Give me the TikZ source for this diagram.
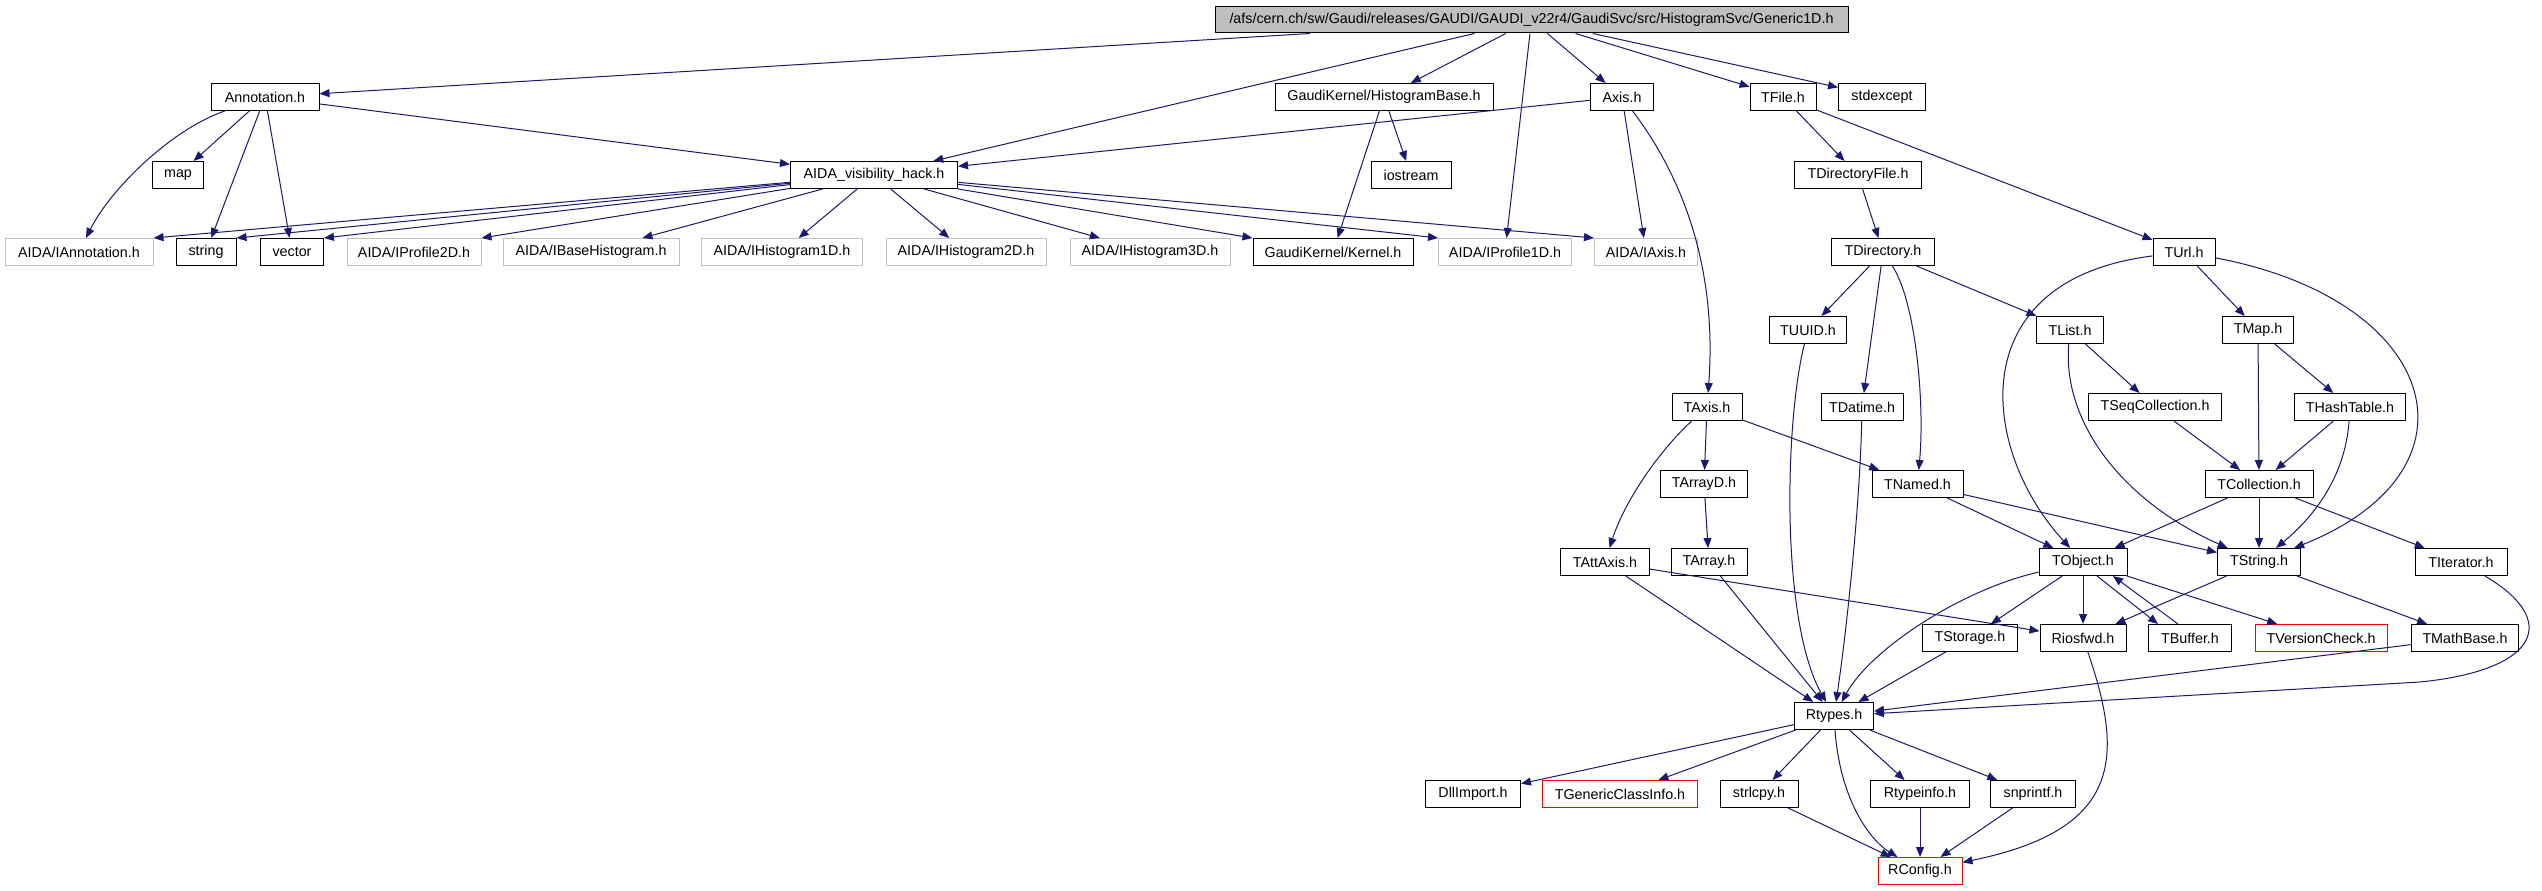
\documentclass[tikz,border=0pt]{standalone}
\usepackage{fontspec}
\setmainfont{Liberation Sans}
\usetikzlibrary{arrows.meta}
\definecolor{edgec}{HTML}{191970}
\definecolor{greyb}{HTML}{BFBFBF}
\tikzset{
 box/.style={draw=black, line width=1pt, minimum height=27pt, inner sep=0pt, font=\fontsize{14.3}{17}\selectfont, text=black},
 gbox/.style={box, draw=greyb},
 rbox/.style={box, draw=red},
 e/.style={draw=edgec, line width=1pt, -{Triangle[length=10pt,width=8pt]}},
}
\begin{document}
\begin{tikzpicture}[x=1pt,y=-1pt]
\useasboundingbox[fill=white] (0,0) rectangle (2542,891);
% row 0
\node[box, fill=greyb, minimum width=633pt, minimum height=26pt] (root) at (1531.5,20) {/afs/cern.ch/sw/Gaudi/releases/GAUDI/GAUDI\_v22r4/GaudiSvc/src/HistogramSvc/Generic1D.h};
% row 1
\node[box, minimum width=108pt] (ann) at (265,97) {Annotation.h};
\node[box, minimum width=218pt] (hb) at (1384,97) {GaudiKernel/HistogramBase.h};
\node[box, minimum width=63pt] (axis) at (1622,97) {Axis.h};
\node[box, minimum width=66pt] (tfile) at (1783,97) {TFile.h};
\node[box, minimum width=87pt] (stdex) at (1882,97) {stdexcept};
% row 2
\node[box, minimum width=51pt] (map) at (178,175) {map};
\node[box, minimum width=167pt] (avh) at (874,175) {AIDA\_visibility\_hack.h};
\node[box, minimum width=80pt] (iostr) at (1411,175) {iostream};
\node[box, minimum width=127pt] (tdirf) at (1858,175) {TDirectoryFile.h};
% row 3
\node[gbox, minimum width=148pt] (iann) at (79,252) {AIDA/IAnnotation.h};
\node[box, minimum width=60pt] (str) at (206,252) {string};
\node[box, minimum width=63pt] (vec) at (292,252) {vector};
\node[gbox, minimum width=134pt] (ip2) at (414,252) {AIDA/IProfile2D.h};
\node[gbox, minimum width=176pt] (ibh) at (591,252) {AIDA/IBaseHistogram.h};
\node[gbox, minimum width=161pt] (ih1) at (782,252) {AIDA/IHistogram1D.h};
\node[gbox, minimum width=160pt] (ih2) at (966,252) {AIDA/IHistogram2D.h};
\node[gbox, minimum width=160pt] (ih3) at (1150,252) {AIDA/IHistogram3D.h};
\node[box, minimum width=160pt] (kern) at (1333,252) {GaudiKernel/Kernel.h};
\node[gbox, minimum width=133pt] (ip1) at (1505,252) {AIDA/IProfile1D.h};
\node[gbox, minimum width=103pt] (iaxis) at (1646,252) {AIDA/IAxis.h};
\node[box, minimum width=103pt] (tdir) at (1883,252) {TDirectory.h};
\node[box, minimum width=62pt] (turl) at (2184,252) {TUrl.h};
% row 4
\node[box, minimum width=77pt] (tuuid) at (1808,330) {TUUID.h};
\node[box, minimum width=67pt] (tlist) at (2070,330) {TList.h};
\node[box, minimum width=71pt] (tmap) at (2258,330) {TMap.h};
% row 5
\node[box, minimum width=70pt] (taxis) at (1707,407) {TAxis.h};
\node[box, minimum width=82pt] (tdat) at (1862,407) {TDatime.h};
\node[box, minimum width=133pt] (tseq) at (2155,407) {TSeqCollection.h};
\node[box, minimum width=111pt] (thash) at (2350,407) {THashTable.h};
% row 6
\node[box, minimum width=87pt] (tarrd) at (1704,484) {TArrayD.h};
\node[box, minimum width=91pt] (tnamed) at (1917.5,484) {TNamed.h};
\node[box, minimum width=108pt] (tcoll) at (2259,484) {TCollection.h};
% row 7
\node[box, minimum width=89pt] (tatt) at (1605,562) {TAttAxis.h};
\node[box, minimum width=76pt] (tarr) at (1709,562) {TArray.h};
\node[box, minimum width=88pt] (tobj) at (2083,562) {TObject.h};
\node[box, minimum width=83pt] (tstr) at (2259,562) {TString.h};
\node[box, minimum width=92pt] (titer) at (2461,562) {TIterator.h};
% row 8
\node[box, minimum width=95pt] (tstor) at (1970,638) {TStorage.h};
\node[box, minimum width=86pt] (rios) at (2083,638) {Riosfwd.h};
\node[box, minimum width=83pt] (tbuf) at (2190,638) {TBuffer.h};
\node[rbox, minimum width=132pt] (tver) at (2321,638) {TVersionCheck.h};
\node[box, minimum width=107pt] (tmath) at (2465,638) {TMathBase.h};
% row 9
\node[box, minimum width=79pt] (rtypes) at (1834,716) {Rtypes.h};
% row 10
\node[box, minimum width=95pt] (dll) at (1473,794) {DllImport.h};
\node[rbox, minimum width=155pt] (tgen) at (1620,794) {TGenericClassInfo.h};
\node[box, minimum width=78pt] (strl) at (1759,794) {strlcpy.h};
\node[box, minimum width=99pt] (rtinfo) at (1920,794) {Rtypeinfo.h};
\node[box, minimum width=85pt] (snpr) at (2033,794) {snprintf.h};
% row 11
\node[rbox, minimum width=84pt] (rconf) at (1920,871) {RConfig.h};

% edges from root
\draw[e] (root) -- (ann);
\draw[e] (root) -- (avh);
\draw[e] (root) -- (hb);
\draw[e] (root) -- (ip1);
\draw[e] (root) -- (axis);
\draw[e] (root) -- (tfile);
\draw[e] (root) -- (stdex);
% Annotation
\draw[e] (ann) .. controls (170,130) and (110,190) .. (iann);
\draw[e] (ann) -- (map);
\draw[e] (ann) -- (str);
\draw[e] (ann) -- (vec);
\draw[e] (ann) -- (avh);
% HistogramBase
\draw[e] (hb) -- (iostr);
\draw[e] (hb) -- (kern);
% Axis
\draw[e] (axis) -- (avh);
\draw[e] (axis) -- (iaxis);
\draw[e] (axis) .. controls (1700,200) and (1715,300) .. (taxis);
% TFile
\draw[e] (tfile) -- (tdirf);
\draw[e] (tfile) -- (turl);
% AIDA_visibility_hack
\draw[e] (avh) -- (iann.north east);
\draw[e] (avh) -- (str.north east);
\draw[e] (avh) -- (vec.north east);
\draw[e] (avh) -- (ip2.north east);
\draw[e] (avh) -- (ibh);
\draw[e] (avh) -- (ih1);
\draw[e] (avh) -- (ih2);
\draw[e] (avh) -- (ih3);
\draw[e] (avh) -- (kern.north west);
\draw[e] (avh) -- (ip1.north west);
\draw[e] (avh) -- (iaxis.north west);
% TDirectory
\draw[e] (tdirf) -- (tdir);
\draw[e] (tdir) -- (tuuid);
\draw[e] (tdir) -- (tdat);
\draw[e] (tdir) .. controls (1915,300) and (1925,400) .. (tnamed);
\draw[e] (tdir) -- (tlist);
% TUrl
\draw[e] (turl) .. controls (1960,280) and (1980,450) .. (tobj);
\draw[e] (turl) -- (tmap);
\draw[e] (turl) .. controls (2440,300) and (2490,470) .. (tstr);
% collections
\draw[e] (tlist) -- (tseq);
\draw[e] (tlist) .. controls (2062,420) and (2120,500) .. (tstr);
\draw[e] (tmap) -- (tcoll);
\draw[e] (tmap) -- (thash);
\draw[e] (thash) -- (tcoll);
\draw[e] (thash) .. controls (2345,480) and (2310,520) .. (tstr);
\draw[e] (tseq) -- (tcoll);
\draw[e] (tcoll) -- (tobj);
\draw[e] (tcoll) -- (tstr);
\draw[e] (tcoll) -- (titer);
\draw[e] (tnamed) -- (tobj);
\draw[e] (tnamed) -- (tstr);
% TAxis
\draw[e] (taxis) .. controls (1660,450) and (1625,500) .. (tatt);
\draw[e] (taxis) -- (tarrd);
\draw[e] (taxis) -- (tnamed);
\draw[e] (tarrd) -- (tarr);
\draw[e] (tarr) -- (rtypes);
\draw[e] (tatt) -- (rtypes);
\draw[e] (tatt) -- (rios);
\draw[e] (tuuid) .. controls (1785,420) and (1780,620) .. (rtypes);
\draw[e] (tdat) .. controls (1860,500) and (1848,620) .. (rtypes);
% TObject
\draw[e] (tobj) .. controls (1960,590) and (1870,650) .. (rtypes);
\draw[e] (tstor) -- (rtypes);
\draw[e] (tobj) -- (tstor);
\draw[e] (tobj) -- (rios);
\draw[e] ([xshift=14pt]tobj.south) -- ([xshift=-32pt]tbuf.north);
\draw[e] ([xshift=-12pt]tbuf.north) -- ([xshift=30pt]tobj.south);
\draw[e] (tobj) -- (tver);
% TString
\draw[e] (tstr) -- (rios);
\draw[e] (tstr) -- (tmath);
% TIterator, TMathBase
\draw[e] (titer) .. controls (2560,620) and (2540,670) .. (2420,682) -- (rtypes);
\draw[e] (tmath) -- (rtypes);
% Riosfwd
\draw[e] (rios) .. controls (2125,760) and (2120,830) .. (rconf);
% Rtypes
\draw[e] (rtypes) -- (dll);
\draw[e] (rtypes) -- (tgen);
\draw[e] (rtypes) -- (strl);
\draw[e] (rtypes) -- (rtinfo);
\draw[e] (rtypes) -- (snpr);
\draw[e] (rtypes) .. controls (1840,800) and (1870,840) .. (rconf);
\draw[e] (strl) -- (rconf);
\draw[e] (rtinfo) -- (rconf);
\draw[e] (snpr) -- (rconf);
\end{tikzpicture}
\end{document}
